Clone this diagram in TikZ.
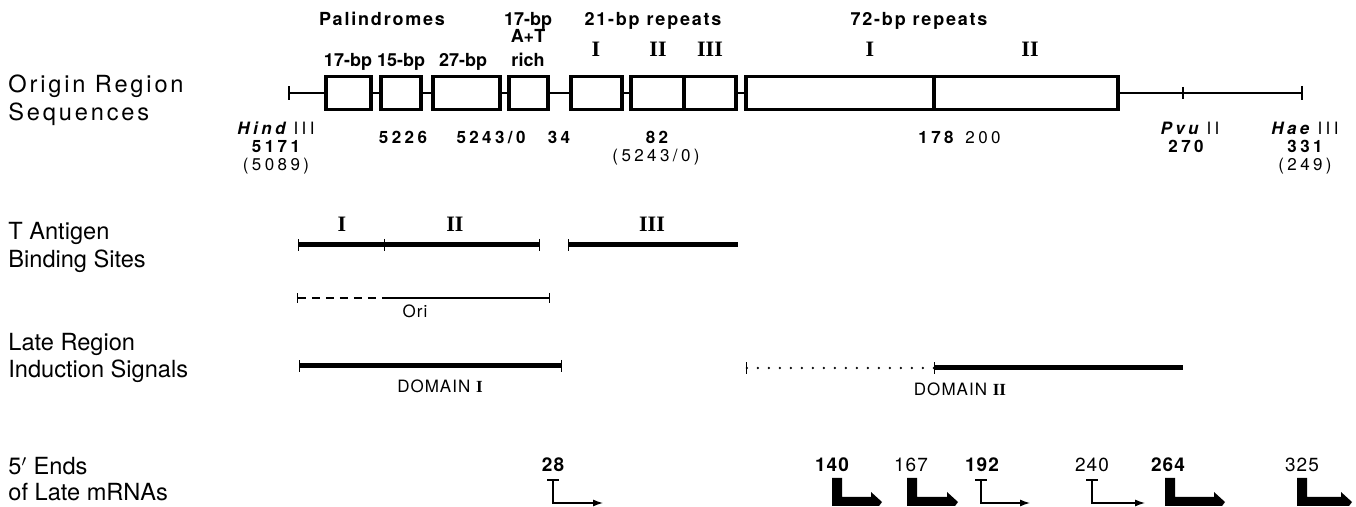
\documentclass[tikz,border=0pt]{standalone}
\usepackage{fontspec}
\setmainfont{TeX Gyre Heros}
\newfontfamily\fSpaced[LetterSpace=12]{TeX Gyre Heros}
\newfontfamily\fTop[LetterSpace=10]{TeX Gyre Heros}
\newfontfamily\fNum[LetterSpace=20]{TeX Gyre Heros}
\newfontfamily\fLbl[LetterSpace=6]{TeX Gyre Heros}
\newfontfamily\fRom{Liberation Serif}
\usetikzlibrary{arrows.meta}
\begin{document}
\begin{tikzpicture}[x=0.5pt,y=-0.5pt,
  side/.style={anchor=base west, inner sep=0, font=\fontsize{11.8}{14}\selectfont},
  toplbl/.style={anchor=base, inner sep=0, font=\fTop\bfseries\fontsize{9}{11}\selectfont},
  bplbl/.style={anchor=base, inner sep=0, font=\bfseries\fontsize{9}{11}\selectfont},
  numlbl/.style={anchor=base, inner sep=0, font=\fNum\bfseries\fontsize{8.5}{10}\selectfont},
  numreg/.style={anchor=base, inner sep=0, font=\fNum\fontsize{8.5}{10}\selectfont},
  sitelbl/.style={anchor=base, inner sep=0, font=\fNum\fontsize{8.5}{10}\selectfont},
  rom/.style={anchor=base, inner sep=0, font=\fRom\bfseries\fontsize{11}{13}\selectfont},
  midlbl/.style={anchor=base, inner sep=0, font=\fLbl\fontsize{8.5}{10}\selectfont},
  mlbl/.style={anchor=base, inner sep=0, font=\fLbl\bfseries\fontsize{9.5}{11}\selectfont},
  mreg/.style={anchor=base, inner sep=0, font=\fLbl\fontsize{9.5}{11}\selectfont},
  box/.style={draw, line width=1.8pt, fill=white, inner sep=0, minimum height=16.5pt},
  seq/.style={line width=1.3pt},
  tline/.style={line width=2.5pt},
  thin/.style={line width=0.6pt},
]
\useasboundingbox (0,0) rectangle (1356,507);

% ---------- left labels ----------
\node[side] (s1a) at (8,93) {\fSpaced Origin Region};
\node[side] (s1b) at (8,121) {\fSpaced Sequences};
\node[side] (s2a) at (8,240) {T Antigen};
\node[side] (s2b) at (8,268) {Binding Sites};
\node[side] (s3a) at (8,351) {Late Region};
\node[side] (s3b) at (8,378) {Induction Signals};
\node[side] (s4a) at (8,475) {5$'$ Ends};
\node[side] (s4b) at (8,501) {of Late mRNAs};

% ---------- top labels ----------
\node[toplbl] (pal) at (382,26) {Palindromes};
\node[bplbl] (at1) at (528,26) {17-bp};
\node[bplbl] (at2) at (528,43) {A+T};
\node[bplbl] (at3) at (528,67) {rich};
\node[toplbl] (r21) at (653,26) {21-bp repeats};
\node[toplbl] (r72) at (919,26) {72-bp repeats};
\node[bplbl] (p17) at (348,67) {17-bp};
\node[bplbl] (p15) at (401,67) {15-bp};
\node[bplbl] (p27) at (463,67) {27-bp};
\node[rom] (n21a) at (596,57) {I};
\node[rom] (n21b) at (658,57) {II};
\node[rom] (n21c) at (710,57) {III};
\node[rom] (n72a) at (870,57) {I};
\node[rom] (n72b) at (1030,57) {II};

% ---------- sequence line ----------
\coordinate (L) at (288,93);
\coordinate (pvu) at (1183,93);
\coordinate (R) at (1303,93);
\node[box, minimum width=22.5pt] (b1) at (348.5,93) {};
\node[box, minimum width=20pt] (b2) at (401,93) {};
\node[box, minimum width=33.5pt] (b3) at (466.5,93) {};
\node[box, minimum width=19.5pt] (b4) at (528.5,93) {};
\node[box, minimum width=25.5pt] (b5) at (596.5,93) {};
\node[box, minimum width=26.5pt] (b6) at (657.5,93) {};
\node[box, minimum width=26pt] (b7) at (710,93) {};
\node[box, minimum width=186pt] (b72) at (932,93) {};
\draw[seq, {Bar[width=7pt,line width=1pt]}-] (L) -- (b1);
\draw[seq] (b1) -- (b2);
\draw[seq] (b2) -- (b3);
\draw[seq] (b3) -- (b4);
\draw[seq] (b4) -- (b5);
\draw[seq] (b5) -- (b6);
\draw[seq] (b7) -- (b72);
\draw[seq] (b72) -- (pvu);
\draw[seq, -{Bar[width=7pt,line width=1pt]}] (pvu) -- (R);
\draw[line width=0.8pt] ([yshift=3pt]pvu) -- ([yshift=-3pt]pvu);
\draw[line width=1.8pt] (b72.north -| 934,0) -- (b72.south -| 934,0);

% ---------- position labels ----------
\node[sitelbl] (hind) at (276,135) {{\bfseries\itshape Hind} III};
\node[numlbl] (n5171) at (276,153) {5171};
\node[numreg] (n5089) at (276,171) {(5089)};
\node[numlbl] (n5226) at (403,144) {5226};
\node[numlbl] (n5243) at (491,144) {5243/0};
\node[numlbl] (n34) at (559,144) {34};
\node[numlbl] (n82) at (657,144) {82};
\node[numreg] (n5243b) at (656,162) {(5243/0)};
\node[numlbl] (n178) at (936,144) {178};
\node[numreg] (n200) at (983,144) {200};
\node[sitelbl] (pvul) at (1190,135) {{\bfseries\itshape Pvu} II};
\node[numlbl] (n270) at (1186,153) {270};
\node[sitelbl] (hael) at (1305,135) {{\bfseries\itshape Hae} III};
\node[numlbl] (n331) at (1305,153) {331};
\node[numreg] (n249) at (1305,171) {(249)};

% ---------- T antigen binding sites ----------
\coordinate (ta1) at (298,245);
\coordinate (ta2) at (385,245);
\coordinate (ta3) at (540,245);
\coordinate (ta4) at (568,245);
\coordinate (ta5) at (738,245);
\draw[tline, {Bar[width=6pt,line width=0.6pt]}-{Bar[width=6pt,line width=0.6pt]}] (ta1) -- (ta2);
\draw[tline, -{Bar[width=6pt,line width=0.6pt]}] (ta2) -- (ta3);
\draw[tline, {Bar[width=6pt,line width=0.6pt]}-] (ta4) -- (ta5);
\node[rom] (tI) at (342,232) {I};
\node[rom] (tII) at (455,232) {II};
\node[rom] (tIII) at (652,232) {III};

% ---------- Ori ----------
\coordinate (o1) at (297,298);
\coordinate (o2) at (385,298);
\coordinate (o3) at (550,298);
\draw[thin, dash pattern=on 4pt off 3pt, {Bar[width=5pt]}-] (o1) -- (o2);
\draw[thin, -{Bar[width=5pt]}] (o2) -- (o3);
\node[midlbl] (ori) at (415,318) {Ori};

% ---------- Domains ----------
\coordinate (d1) at (299,366);
\coordinate (d2) at (562,366);
\draw[tline, {Bar[width=6pt,line width=0.6pt]}-{Bar[width=6pt,line width=0.6pt]}] (d1) -- (d2);
\node[midlbl] (dom1) at (440,393) {DOMAIN {\fRom\bfseries I}};
\coordinate (e1) at (746,368);
\coordinate (e2) at (934,368);
\coordinate (e3) at (1183,368);
\draw[line width=1.3pt, line cap=round, dash pattern=on 0pt off 5.5pt, {Bar[width=6pt,line width=0.6pt]}-] (e1) -- (e2);
\draw[tline, {Bar[width=6pt,line width=0.6pt]}-] (e2) -- (e3);
\node[midlbl] (dom2) at (960,396) {DOMAIN {\fRom\bfseries II}};

% ---------- 5' ends ----------
\node[mlbl] (m28) at (553,472) {28};
\node[mlbl] (m140) at (832,472) {140};
\node[mreg] (m167) at (911,472) {167};
\node[mlbl] (m192) at (982,472) {192};
\node[mreg] (m240) at (1092,472) {240};
\node[mlbl] (m264) at (1168,472) {264};
\node[mreg] (m325) at (1302,472) {325};

% thin arrows
\foreach \nm/\x/\e in {a28/553/603, a192/981/1030, a240/1092/1145}{
  \coordinate (\nm t) at (\x,480);
  \coordinate (\nm b) at (\x,503);
  \coordinate (\nm e) at (\e,503);
  \draw[thin, -{Latex[length=5pt,width=3.5pt]}] (\nm t) -- (\nm b) -- (\nm e);
  \draw[thin] ([xshift=-3pt]\nm t) -- ([xshift=3pt]\nm t);
}
% thick arrows
\foreach \x/\l in {832/50, 907/51, 1165/60, 1297/55}{
  \fill (\x,478) -- (\x+10,478) -- (\x+10,497) -- (\x+\l-11,497) -- (\x+\l-11,492)
        -- (\x+\l,502) -- (\x+\l-3,506) -- (\x,506) -- cycle;
}
\end{tikzpicture}
\end{document}
